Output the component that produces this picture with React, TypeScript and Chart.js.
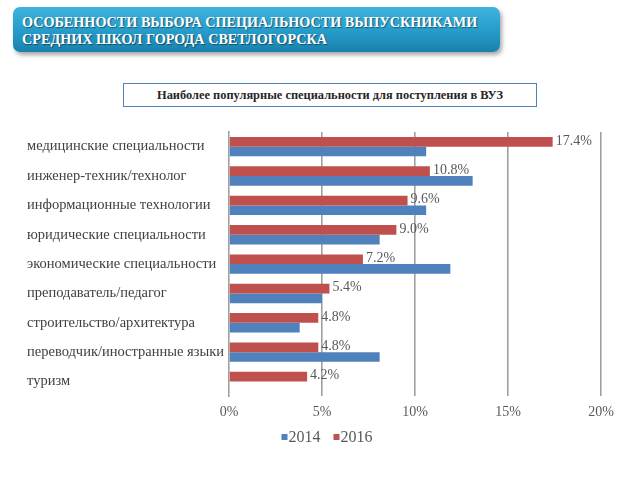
import React, { useEffect, useRef } from "react";
import { Chart, registerables } from "chart.js";

Chart.register(...registerables);

const categories = [
  "медицинские специальности",
  "инженер-техник/технолог",
  "информационные технологии",
  "юридические специальности",
  "экономические специальности",
  "преподаватель/педагог",
  "строительство/архитектура",
  "переводчик/иностранные языки",
  "туризм",
];
const values2014 = [10.6, 13.1, 10.6, 8.1, 11.9, 5.0, 3.8, 8.1, 0];
const values2016 = [17.4, 10.8, 9.6, 9.0, 7.2, 5.4, 4.8, 4.8, 4.2];
const xTicks = [0, 5, 10, 15, 20];
const legendOrder = [1, 0];

const SERIF = "'Liberation Serif', 'Times New Roman', serif";

const labelPlugin = {
  id: "barLabels",
  afterDatasetsDraw(chart: any) {
    const ctx = chart.ctx;
    const meta = chart.getDatasetMeta(0);
    ctx.save();
    ctx.font = "14px " + SERIF;
    ctx.fillStyle = "#595959";
    ctx.textAlign = "left";
    ctx.textBaseline = "middle";
    meta.data.forEach((bar: any, i: number) => {
      const v = values2016[i];
      ctx.fillText(v.toFixed(1) + "%", bar.x + 3, bar.y - 1);
    });
    ctx.restore();
  },
};

const legendPlugin = {
  id: "customLegend",
  afterDraw(chart: any) {
    const ctx = chart.ctx;
    ctx.save();
    ctx.font = "16px " + SERIF;
    ctx.textBaseline = "middle";
    ctx.textAlign = "left";
    const box = 6;
    const gap = 1;
    const sep = 13;
    const items = legendOrder.map((i) => chart.data.datasets[i]);
    const widths = items.map((d: any) => box + gap + ctx.measureText(d.label).width);
    const total = widths.reduce((a: number, b: number) => a + b, 0) + sep * (items.length - 1);
    let x = chart.width / 2 - total / 2;
    const y = 317;
    items.forEach((d: any, k: number) => {
      ctx.fillStyle = d.backgroundColor;
      ctx.fillRect(x, y - box / 2, box, box);
      ctx.fillStyle = "#595959";
      ctx.fillText(d.label, x + box + gap, y + 1);
      x += widths[k] + sep;
    });
    ctx.restore();
  },
};

export default function App() {
  const ref = useRef<HTMLCanvasElement>(null);
  useEffect(() => {
    if (!ref.current) return;
    const chart = new Chart(ref.current, {
      type: "bar",
      data: {
        labels: categories,
        datasets: [
          {
            label: "2016",
            data: values2016,
            backgroundColor: "#c0504d",
            categoryPercentage: 0.66,
            barPercentage: 1.0,
          },
          {
            label: "2014",
            data: values2014,
            backgroundColor: "#4f81bd",
            categoryPercentage: 0.66,
            barPercentage: 1.0,
          },
        ],
      },
      options: {
        indexAxis: "y",
        animation: false,
        responsive: false,
        maintainAspectRatio: false,
        layout: { padding: { top: 12, right: 26, left: 0, bottom: 31 } },
        scales: {
          x: {
            min: 0,
            max: 20,
            afterBuildTicks: (scale: any) => {
              scale.ticks = xTicks.map((v) => ({ value: v }));
            },
            ticks: {
              callback: (v: any) => v + "%",
              font: { family: SERIF, size: 14 },
              color: "#595959",
              padding: 8,
            },
            grid: {
              color: (c: any) => (c.tick && c.tick.value === 0 ? "rgba(0,0,0,0)" : "#a0a0a0"),
              drawTicks: false,
              lineWidth: 1.6,
            },
            border: { display: false },
          },
          y: {
            afterFit: (scale: any) => {
              scale.width = 202;
            },
            ticks: {
              crossAlign: "far",
              font: { family: SERIF, size: 14.5 },
              color: "#404040",
            },
            grid: { display: false },
            border: { display: true, color: "#a0a0a0", width: 1.6 },
          },
        },
        plugins: {
          legend: { display: false },
          tooltip: { enabled: false },
        },
      },
      plugins: [labelPlugin, legendPlugin],
    } as any);
    return () => chart.destroy();
  }, []);

  return (
    <div
      style={{
        position: "fixed",
        left: 0,
        top: 0,
        width: 640,
        height: 480,
        background: "#ffffff",
        overflow: "hidden",
      }}
    >
      <div
        style={{
          position: "absolute",
          left: 13,
          top: 7,
          width: 487,
          height: 45,
          borderRadius: 7,
          background: "linear-gradient(to bottom, #3db3dd 0%, #259bc9 55%, #1a80ad 100%)",
          boxShadow: "2px 3px 4px rgba(0,0,0,0.35)",
          color: "#ffffff",
          fontFamily: SERIF,
          fontWeight: "bold",
          fontSize: 14.2,
          lineHeight: "17px",
          padding: "7px 0 0 9px",
          boxSizing: "border-box",
          textShadow: "1px 1px 1px rgba(0,0,0,0.45)",
          whiteSpace: "nowrap",
        }}
      >
        ОСОБЕННОСТИ ВЫБОРА СПЕЦИАЛЬНОСТИ ВЫПУСКНИКАМИ
        <br />
        СРЕДНИХ ШКОЛ ГОРОДА СВЕТЛОГОРСКА
      </div>
      <div
        style={{
          position: "absolute",
          left: 123,
          top: 83,
          width: 414,
          height: 24,
          border: "1.5px solid #4f81bd",
          boxSizing: "border-box",
          background: "#ffffff",
          fontFamily: SERIF,
          fontWeight: "bold",
          fontSize: 12.4,
          color: "#262626",
          display: "flex",
          alignItems: "center",
          justifyContent: "center",
          whiteSpace: "nowrap",
        }}
      >
        Наиболее популярные специальности для поступления в ВУЗ
      </div>
      <canvas
        ref={ref}
        width={600}
        height={340}
        style={{ position: "absolute", left: 27, top: 120, width: 600, height: 340 }}
      />
    </div>
  );
}
